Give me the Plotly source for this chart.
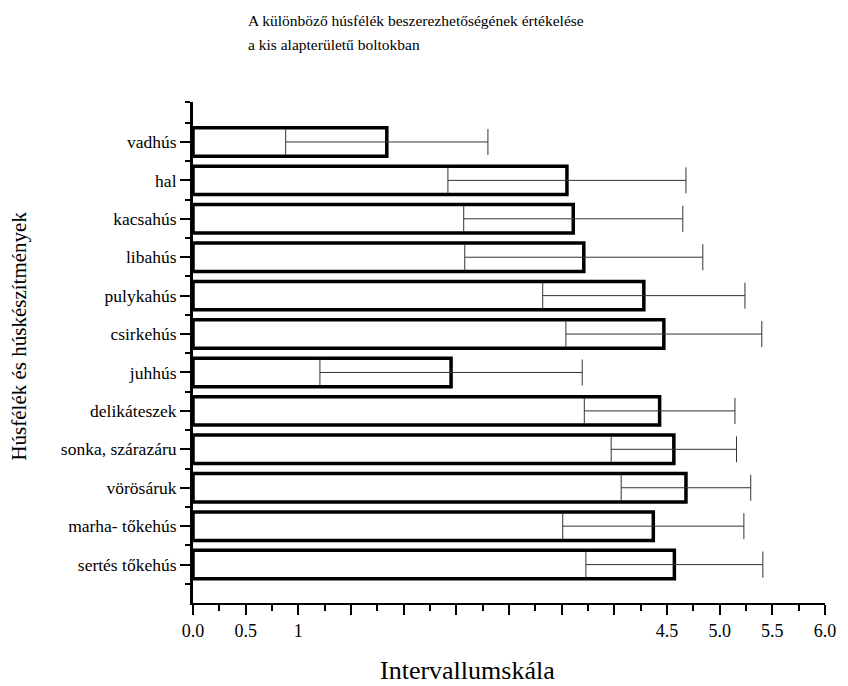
import plotly.graph_objects as go

categories = ["vadhús", "hal", "kacsahús", "libahús", "pulykahús", "csirkehús",
              "juhhús", "delikáteszek", "sonka, szárazáru", "vörösáruk",
              "marha- tőkehús", "sertés tőkehús"]
means = [1.84, 3.55, 3.61, 3.71, 4.28, 4.47, 2.45, 4.43, 4.565, 4.68, 4.37, 4.57]
errors = [0.96, 1.13, 1.04, 1.13, 0.96, 0.93, 1.245, 0.715, 0.595, 0.615, 0.86, 0.84]

x_tick_vals = [0, 0.5, 1, 1.5, 2, 2.5, 3, 3.5, 4, 4.5, 5, 5.5, 6]
x_tick_text = ["0.0", "0.5", "1", "", "", "", "", "", "", "4.5", "5.0", "5.5", "6.0"]

title_line1 = "A különböző húsfélék beszerezhetőségének értékelése"
title_line2 = "a kis alapterületű boltokban"
x_title = "Intervallumskála"
y_title = "Húsfélék és húskészítmények"

FONT = "Liberation Serif"
ypos = list(range(len(categories)))

fig = go.Figure()
fig.add_trace(go.Bar(
    x=means, y=ypos, orientation="h", width=0.74,
    marker=dict(color="white", line=dict(color="black", width=3.5)),
    error_x=dict(type="data", array=errors, visible=True,
                 color="#333333", thickness=1, width=13),
    showlegend=False,
))

fig.update_layout(
    width=848, height=686,
    margin=dict(l=193, r=21, t=102, b=83),
    paper_bgcolor="white", plot_bgcolor="white",
    font=dict(family=FONT, color="black", size=17),
    xaxis=dict(
        range=[0, 6], showgrid=False, zeroline=False,
        showline=True, linecolor="black", linewidth=2,
        tickmode="array", tickvals=x_tick_vals, ticktext=x_tick_text,
        ticks="outside", ticklen=10, tickwidth=2, tickcolor="black",
        tickfont=dict(family=FONT, size=18),
        minor=dict(tickmode="array",
                   tickvals=[v + 0.25 for v in x_tick_vals[:-1]],
                   ticks="outside", ticklen=6, tickwidth=2, tickcolor="black"),
    ),
    yaxis=dict(
        range=[12, -1.04], showgrid=False, zeroline=False,
        showline=True, linecolor="black", linewidth=3,
        tickmode="array", tickvals=ypos, ticktext=categories,
        ticks="outside", ticklen=10, tickwidth=2, tickcolor="black",
        tickfont=dict(family=FONT, size=17.5),
        minor=dict(tickmode="array",
                   tickvals=[-1.04] + [i + 0.5 for i in range(-1, 12)],
                   ticks="outside", ticklen=5, tickwidth=2, tickcolor="black"),
    ),
    annotations=[
        dict(text=title_line1, xref="paper", yref="paper",
             x=(246 - 193) / 634, y=(603 - 21) / 501, xanchor="left", yanchor="middle",
             showarrow=False, font=dict(family=FONT, size=15.5)),
        dict(text=title_line2, xref="paper", yref="paper",
             x=(246 - 193) / 634, y=(603 - 44) / 501, xanchor="left", yanchor="middle",
             showarrow=False, font=dict(family=FONT, size=15.5)),
        dict(text=x_title, xref="paper", yref="paper",
             x=(468 - 193) / 634, y=(603 - 670) / 501, xanchor="center", yanchor="middle",
             showarrow=False, font=dict(family=FONT, size=26)),
        dict(text=y_title, xref="paper", yref="paper", textangle=-90,
             x=(18 - 193) / 634, y=(603 - 336) / 501, xanchor="center", yanchor="middle",
             showarrow=False, font=dict(family=FONT, size=21)),
    ],
)

fig.write_html("out.html")
